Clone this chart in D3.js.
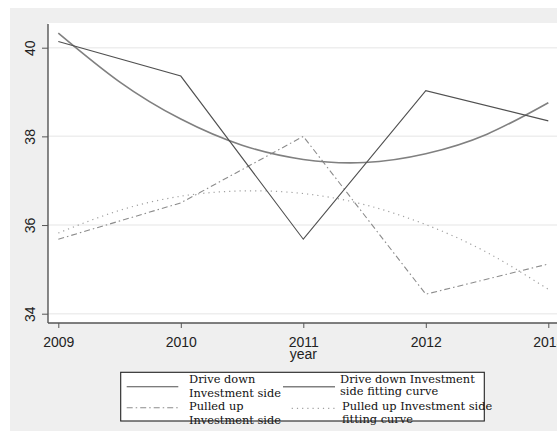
<!DOCTYPE html>
<html><head><meta charset="utf-8">
<script src="https://cdn.jsdelivr.net/npm/d3@7"></script>
<style>body{margin:0;background:#fff;overflow:hidden}svg{display:block}</style>
</head><body>
<script>
const years = [2009, 2010, 2011, 2012, 2013];
const driveDown = [40.14, 39.36, 35.68, 39.03, 38.35];
const pulledUp = [35.68, 36.50, 38.00, 34.44, 35.12];
const fitYears = [2009, 2009.5, 2010, 2010.5, 2011, 2011.5, 2012, 2012.5, 2013];
const driveDownFit = [40.33, 39.23, 38.39, 37.80, 37.48, 37.41, 37.61, 38.05, 38.76];
const pulledUpFit = [35.82, 36.33, 36.65, 36.77, 36.71, 36.46, 36.01, 35.38, 34.55];
const yTicks = [34, 36, 38, 40];
const xTicks = [2009, 2010, 2011, 2012, 2013];
const legendItems = [
  {lines: ["Drive down", "Investment side"], key: "dd"},
  {lines: ["Drive down Investment", "side fitting curve"], key: "ddf"},
  {lines: ["Pulled up", "Investment side"], key: "pu"},
  {lines: ["Pulled up Investment side", "fitting curve"], key: "puf"}
];

const W = 557, H = 434;
const styles = {
  dd: {stroke: "#505050", width: 1.1, dash: null},
  ddf: {stroke: "#808080", width: 1.6, dash: null},
  pu: {stroke: "#8c8c8c", width: 1.1, dash: "6,3,1.5,3"},
  puf: {stroke: "#a0a0a0", width: 1.2, dash: "1.2,4"}
};

const svg = d3.select("body").append("svg").attr("width", W).attr("height", H);
svg.append("rect").attr("x", 10).attr("y", 8).attr("width", W - 10).attr("height", 423).attr("fill", "#efefef");
const plotL = 48, plotT = 23, plotB = 323;
svg.append("rect").attr("x", plotL).attr("y", plotT).attr("width", W - plotL).attr("height", plotB - plotT).attr("fill", "#fff");

const x = d3.scaleLinear().domain([2009, 2013]).range([58.3, 548.3]);
const y = d3.scaleLinear().domain([34, 40]).range([313.7, 47.7]);

// gridlines
svg.append("g").selectAll("line").data(yTicks).join("line")
  .attr("x1", plotL).attr("x2", W).attr("y1", d => y(d)).attr("y2", d => y(d))
  .attr("stroke", "#eeeeee").attr("stroke-width", 1.5);

// series
const line = d3.line().x(d => x(d[0])).y(d => y(d[1]));
const curve = d3.line().x(d => x(d[0])).y(d => y(d[1])).curve(d3.curveNatural);
function draw(gen, xs, vs, st) {
  svg.append("path").datum(xs.map((v, i) => [v, vs[i]])).attr("d", gen)
    .attr("fill", "none").attr("stroke", st.stroke).attr("stroke-width", st.width)
    .attr("stroke-dasharray", st.dash);
}
draw(curve, fitYears, pulledUpFit, styles.puf);
draw(line, years, pulledUp, styles.pu);
draw(curve, fitYears, driveDownFit, styles.ddf);
draw(line, years, driveDown, styles.dd);

// axes
const yAxis = svg.append("g").attr("transform", `translate(${plotL},0)`)
  .call(d3.axisLeft(y).tickValues(yTicks).tickSize(6).tickSizeOuter(0).tickFormat(d3.format("d")));
yAxis.select(".domain").remove();
yAxis.selectAll(".tick line").attr("stroke", "#555");
yAxis.selectAll(".tick text").attr("transform", "rotate(-90)").attr("x", 0).attr("y", -13)
  .attr("dy", 0).attr("text-anchor", "middle")
  .style("font-family", "Liberation Sans, Arial, sans-serif").style("font-size", "14px").attr("fill", "#222");
svg.append("line").attr("x1", plotL).attr("x2", plotL).attr("y1", plotT + 1).attr("y2", plotB)
  .attr("stroke", "#555").attr("stroke-width", 1.4);

const xAxis = svg.append("g").attr("transform", `translate(0,${plotB})`)
  .call(d3.axisBottom(x).tickValues(xTicks).tickSize(5).tickSizeOuter(0).tickFormat(d3.format("d")));
xAxis.select(".domain").remove();
xAxis.selectAll(".tick line").attr("stroke", "#555");
xAxis.selectAll(".tick text").attr("y", 24).attr("dy", 0)
  .style("font-family", "Liberation Sans, Arial, sans-serif").style("font-size", "14px").attr("fill", "#222");
svg.append("line").attr("x1", plotL).attr("x2", W).attr("y1", plotB).attr("y2", plotB)
  .attr("stroke", "#555").attr("stroke-width", 1.4);

svg.append("text").attr("x", x(2011)).attr("y", 359).attr("text-anchor", "middle")
  .style("font-family", "Liberation Sans, Arial, sans-serif").style("font-size", "14px").attr("fill", "#222").text("year");

// legend
const lg = svg.append("g");
lg.append("rect").attr("x", 120.7).attr("y", 372.3).attr("width", 363.6).attr("height", 48.7)
  .attr("fill", "#fff");
const pos = {
  dd: {lx1: 126.7, lx2: 178.3, ly: 386.7, tx: 189, ty: [382.7, 396.9]},
  ddf: {lx1: 283, lx2: 335, ly: 386.7, tx: 340, ty: [382.5, 395]},
  pu: {lx1: 126.7, lx2: 178.3, ly: 407.7, tx: 189, ty: [410, 423.5]},
  puf: {lx1: 291.7, lx2: 335, ly: 408.3, tx: 342, ty: [410, 422.5]}
};
legendItems.forEach(it => {
  const p = pos[it.key], st = styles[it.key];
  lg.append("line").attr("x1", p.lx1).attr("x2", p.lx2).attr("y1", p.ly).attr("y2", p.ly)
    .attr("stroke", st.stroke).attr("stroke-width", st.width).attr("stroke-dasharray", st.dash);
  it.lines.forEach((t, i) => {
    lg.append("text").attr("x", p.tx).attr("y", p.ty[i])
      .style("font-family", "DejaVu Serif, serif").style("font-size", "11.4px").attr("fill", "#111").text(t);
  });
});
lg.append("rect").attr("x", 120.7).attr("y", 372.3).attr("width", 363.6).attr("height", 48.7)
  .attr("fill", "none").attr("stroke", "#222").attr("stroke-width", 1.1);
</script>
</body></html>
